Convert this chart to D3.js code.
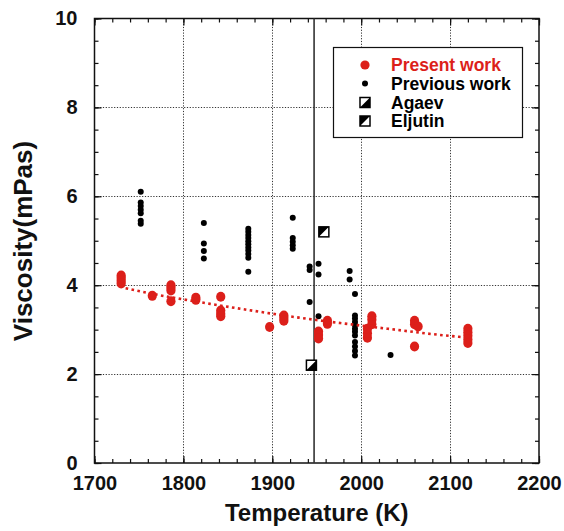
<!DOCTYPE html>
<html>
<head>
<meta charset="utf-8">
<script src="https://cdn.jsdelivr.net/npm/d3@7"></script>
<style>
  html, body { margin: 0; padding: 0; background: #fff; }
  svg { display: block; }
  text { font-family: "Liberation Sans", Arial, sans-serif; font-weight: bold; }
</style>
</head>
<body>
<svg id="chart" width="564" height="531"></svg>
<script>
// Present work: melt viscosity measurements
const presentT = [1730, 1730, 1730, 1730, 1765, 1786, 1786, 1786, 1786, 1814, 1814,
  1842, 1842, 1842, 1842, 1897, 1913, 1913, 1913, 1952, 1952, 1952, 1962, 1962,
  2007, 2007, 2007, 2012, 2012, 2012, 2060, 2060, 2060, 2064,
  2120, 2120, 2120, 2120, 2120];
const presentV = [4.22, 4.16, 4.10, 4.04, 3.76, 4.00, 3.94, 3.88, 3.64, 3.72, 3.67,
  3.74, 3.43, 3.36, 3.30, 3.06, 3.32, 3.26, 3.20, 2.96, 2.88, 2.80, 3.20, 3.13,
  2.82, 2.92, 3.02, 3.12, 3.22, 3.30, 3.20, 3.12, 2.62, 3.07,
  3.02, 2.94, 2.86, 2.78, 2.70];

// Previous work
const previousT = [1752, 1752, 1752, 1752, 1752, 1752, 1752,
  1823, 1823, 1823, 1823,
  1873, 1873, 1873, 1873, 1873, 1873, 1873, 1873, 1873, 1873, 1873,
  1923, 1923, 1923, 1923, 1923,
  1942, 1942, 1942, 1952, 1952, 1952, 1987, 1987,
  1993, 1993, 1993, 1993, 1993, 1993, 1993, 1993, 1993, 1993, 1993, 1993,
  2033];
const previousV = [6.10, 5.86, 5.78, 5.70, 5.62, 5.45, 5.38,
  5.40, 4.94, 4.77, 4.60,
  5.27, 5.20, 5.13, 5.06, 4.99, 4.92, 4.85, 4.78, 4.70, 4.62, 4.30,
  5.52, 5.06, 4.98, 4.90, 4.82,
  4.42, 4.34, 3.62, 4.48, 4.24, 3.30, 4.32, 4.13,
  3.80, 3.32, 3.25, 3.17, 3.10, 3.02, 2.95, 2.87, 2.72, 2.62, 2.52, 2.42,
  2.43];

// Single literature values
const agaevT = [1944];
const agaevV = [2.2];
const eljutinT = [1958];
const eljutinV = [5.2];

// Fitted trend through the present measurements
const trendT = [1735, 1780, 1830, 1880, 1930, 1980, 2030, 2080, 2120];
const trendV = [3.93, 3.75, 3.58, 3.42, 3.27, 3.14, 3.02, 2.90, 2.82];

// Melting point marker
const meltT = 1947;

// Axis ticks
const xMajor = [1700, 1800, 1900, 2000, 2100, 2200];
const yMajor = [0, 2, 4, 6, 8, 10];
const xMinor = d3.range(1700, 2201, 20);
const yMinor = d3.range(0, 10.01, 0.5);

const legendLabels = ["Present work", "Previous work", "Agaev", "Eljutin"];

const RED = "#dc1f1a";

const svg = d3.select("#chart");
const x = d3.scaleLinear().domain([1700, 2200]).range([94.5, 539]);
const y = d3.scaleLinear().domain([0, 10]).range([463, 18.5]);
const [x0, x1] = x.range();
const [y0, y1] = y.range();

// dotted grid at the major ticks
const grid = svg.append("g").attr("stroke", "#333").attr("stroke-width", 1)
  .attr("stroke-dasharray", "1.2,1.6");
grid.selectAll(".gx").data(xMajor.slice(1, -1)).join("line")
  .attr("x1", d => Math.round(x(d)) + 0.5).attr("x2", d => Math.round(x(d)) + 0.5)
  .attr("y1", y1).attr("y2", y0);
grid.selectAll(".gy").data(yMajor.slice(1, -1)).join("line")
  .attr("y1", d => Math.round(y(d)) + 0.5).attr("y2", d => Math.round(y(d)) + 0.5)
  .attr("x1", x0).attr("x2", x1);

// axes with inward ticks on all four sides
function styleAxis(g) {
  g.select(".domain").remove();
  g.selectAll(".tick line").attr("stroke", "#111").attr("stroke-width", 1.2);
  g.selectAll("text").attr("fill", "#111").style("font-size", "20px")
    .style("font-family", "'Liberation Sans', Arial, sans-serif").style("font-weight", "bold");
}
svg.append("g").attr("transform", `translate(0,${y0})`)
  .call(d3.axisBottom(x).tickValues(xMinor).tickSize(-4).tickFormat(""))
  .call(styleAxis);
svg.append("g").attr("transform", `translate(0,${y0})`)
  .call(d3.axisBottom(x).tickValues(xMajor).tickSize(-7).tickPadding(13).tickFormat(d3.format("d")))
  .call(styleAxis);
svg.append("g").attr("transform", `translate(0,${y1})`)
  .call(d3.axisTop(x).tickValues(xMinor).tickSize(-4).tickFormat(""))
  .call(styleAxis);
svg.append("g").attr("transform", `translate(0,${y1})`)
  .call(d3.axisTop(x).tickValues(xMajor).tickSize(-7).tickFormat(""))
  .call(styleAxis);
svg.append("g").attr("transform", `translate(${x0},0)`)
  .call(d3.axisLeft(y).tickValues(yMinor).tickSize(-4).tickFormat(""))
  .call(styleAxis);
svg.append("g").attr("transform", `translate(${x0},0)`)
  .call(d3.axisLeft(y).tickValues(yMajor).tickSize(-7).tickPadding(17).tickFormat(d3.format("d")))
  .call(styleAxis);
svg.append("g").attr("transform", `translate(${x1},0)`)
  .call(d3.axisRight(y).tickValues(yMinor).tickSize(-4).tickFormat(""))
  .call(styleAxis);
svg.append("g").attr("transform", `translate(${x1},0)`)
  .call(d3.axisRight(y).tickValues(yMajor).tickSize(-7).tickFormat(""))
  .call(styleAxis);

// plot frame
svg.append("rect").attr("x", x0).attr("y", y1).attr("width", x1 - x0).attr("height", y0 - y1)
  .attr("fill", "none").attr("stroke", "#111").attr("stroke-width", 1.5);

// melting point
svg.append("line").attr("x1", x(meltT)).attr("x2", x(meltT)).attr("y1", y1).attr("y2", y0)
  .attr("stroke", "#333").attr("stroke-width", 1.6);

// previous work
svg.append("g").selectAll("circle").data(previousT.map((t, i) => [t, previousV[i]])).join("circle")
  .attr("cx", d => x(d[0])).attr("cy", d => y(d[1])).attr("r", 3).attr("fill", "#000");

// trend of present work
svg.append("path").datum(trendT.map((t, i) => [t, trendV[i]]))
  .attr("d", d3.line().x(d => x(d[0])).y(d => y(d[1])).curve(d3.curveMonotoneX))
  .attr("fill", "none").attr("stroke", RED).attr("stroke-width", 2.6)
  .attr("stroke-dasharray", "2.6,3.4");

// present work
svg.append("g").selectAll("ellipse").data(presentT.map((t, i) => [t, presentV[i]])).join("ellipse")
  .attr("cx", d => x(d[0])).attr("cy", d => y(d[1])).attr("rx", 4.6).attr("ry", 5)
  .attr("fill", RED);

// half-filled square marker
function halfSquare(g, cx, cy, s, kind) {
  const h = s / 2;
  g.append("rect").attr("x", cx - h).attr("y", cy - h).attr("width", s).attr("height", s)
    .attr("fill", "#fff").attr("stroke", "#000").attr("stroke-width", 1.5);
  const pts = kind === "agaev"
    ? [[cx - h, cy + h], [cx + h, cy - h], [cx + h, cy + h]]
    : [[cx - h, cy - h], [cx + h, cy - h], [cx - h, cy + h]];
  g.append("path").attr("d", d3.line()(pts) + "Z").attr("fill", "#000");
}
agaevT.forEach((t, i) => halfSquare(svg.append("g"), x(t), y(agaevV[i]), 10, "agaev"));
eljutinT.forEach((t, i) => halfSquare(svg.append("g"), x(t), y(eljutinV[i]), 10, "eljutin"));

// legend
const lg = svg.append("g");
lg.append("rect").attr("x", 333.5).attr("y", 47.5).attr("width", 189).attr("height", 90)
  .attr("fill", "#fff").attr("stroke", "#111").attr("stroke-width", 1.2);
const rowY = [65, 83.5, 102.5, 121];
lg.append("circle").attr("cx", 365).attr("cy", rowY[0]).attr("r", 4.6).attr("fill", RED);
lg.append("circle").attr("cx", 365).attr("cy", rowY[1]).attr("r", 3).attr("fill", "#000");
halfSquare(lg.append("g"), 365, rowY[2], 10, "agaev");
halfSquare(lg.append("g"), 365, rowY[3], 10, "eljutin");
lg.selectAll("text").data(legendLabels).join("text")
  .attr("x", 391).attr("y", (d, i) => rowY[i]).attr("dy", "0.36em")
  .attr("fill", (d, i) => i === 0 ? RED : "#000")
  .style("font-size", "17.5px").text(d => d);

// axis titles
svg.append("text").attr("x", (x0 + x1) / 2).attr("y", 521).attr("text-anchor", "middle")
  .style("font-size", "24px").attr("fill", "#111").text("Temperature (K)");
svg.append("text").attr("transform", `translate(32,241) rotate(-90)`)
  .attr("text-anchor", "middle").style("font-size", "26px").attr("fill", "#111")
  .text("Viscosity(mPas)");
</script>
</body>
</html>
